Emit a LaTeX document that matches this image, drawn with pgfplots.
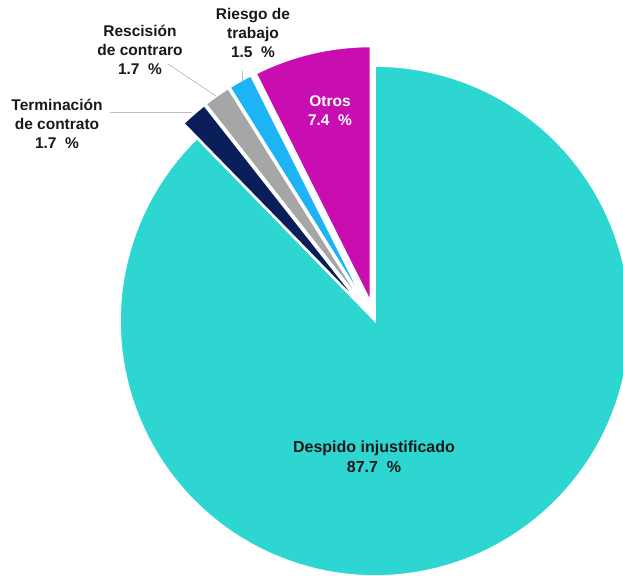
\documentclass[border=0pt]{standalone}
\usepackage{pgfplots}
\pgfplotsset{compat=1.18}
\usepackage{fontspec}
\setmainfont{Liberation Sans}

\definecolor{despido}{RGB}{46,214,210}
\definecolor{otros}{RGB}{200,14,176}
\definecolor{riesgo}{RGB}{28,180,245}
\definecolor{rescision}{RGB}{166,166,166}
\definecolor{terminacion}{RGB}{10,30,90}
\definecolor{leader}{RGB}{190,190,190}

% shares (%), counter-clockwise from the top:
% Otros 7.4, Riesgo 1.5, Rescision 1.7, Terminacion 1.7, Despido 87.7
\begin{document}
\begin{tikzpicture}[lbl/.style={font=\bfseries\fontsize{15.5}{19}\selectfont, align=center, text=black!90}]
\useasboundingbox (0,0) rectangle (623pt,575pt);
\begin{axis}[
    at={(0,0)}, anchor=south west,
    scale only axis, width=623pt, height=575pt,
    xmin=0, xmax=623, ymin=0, ymax=575,
    hide axis, clip=true,
    every axis plot/.append style={draw=white, line width=1.6pt, variable=\t},
]
% Despido injustificado (not exploded)
\addplot[fill=despido, samples=140, domain=90+3.6*12.3:450]
  ({375+255*cos(t)},{254+255*sin(t)}) -- (axis cs:375,254) -- cycle;
% Otros
\addplot[fill=otros, samples=30, domain=90:90+3.6*7.4]
  ({370.4+255*cos(t)},{273.5+255*sin(t)}) -- (axis cs:370.4,273.5) -- cycle;
% Riesgo de trabajo
\addplot[fill=riesgo, samples=10, domain=90+3.6*7.4:90+3.6*8.9]
  ({365.2+255*cos(t)},{271.4+255*sin(t)}) -- (axis cs:365.2,271.4) -- cycle;
% Rescision de contrato
\addplot[fill=rescision, samples=10, domain=90+3.6*8.9:90+3.6*10.6]
  ({363.5+255*cos(t)},{270.4+255*sin(t)}) -- (axis cs:363.5,270.4) -- cycle;
% Terminacion de contrato
\addplot[fill=terminacion, samples=10, domain=90+3.6*10.6:90+3.6*12.3]
  ({361.8+255*cos(t)},{269.0+255*sin(t)}) -- (axis cs:361.8,269.0) -- cycle;

% leader lines
\addplot[draw=leader, line width=0.8pt] coordinates {(110,463) (192,463)};
\addplot[draw=leader, line width=0.8pt] coordinates {(168,511) (216,479)};
\addplot[draw=leader, line width=0.8pt] coordinates {(242,504) (242,494)};

\node[lbl, font=\bfseries\fontsize{16}{20}\selectfont] at (axis cs:374,118) {Despido injustificado\\87.7\ \ \%};
\node[lbl, text=white] at (axis cs:330,464) {Otros\\7.4\ \ \%};
\node[lbl] at (axis cs:253,542) {Riesgo de\\trabajo\\1.5\ \ \%};
\node[lbl] at (axis cs:140,525) {Rescisión\\de contraro\\1.7\ \ \%};
\node[lbl] at (axis cs:57,451) {Terminación\\de contrato\\1.7\ \ \%};
\end{axis}
\end{tikzpicture}
\end{document}
